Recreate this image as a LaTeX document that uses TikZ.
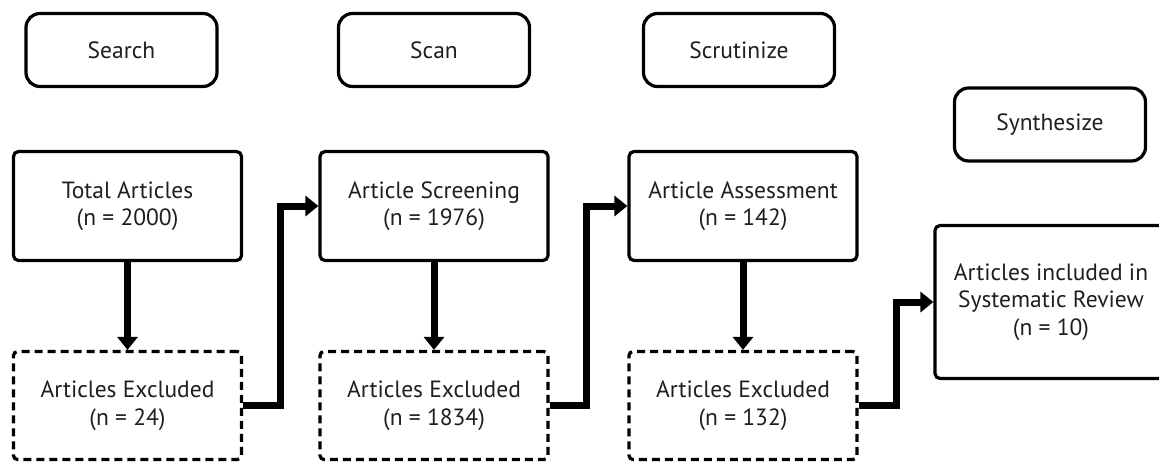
\documentclass[tikz,border=0pt]{standalone}
\usepackage{fontspec}
\setmainfont{PT Sans}
\usetikzlibrary{arrows.meta}
\begin{document}
\begin{tikzpicture}[x=1pt,y=-1pt,
  every node/.style={font=\fontsize{23.5}{27.5}\selectfont, text=black!88, align=center, inner sep=0pt},
  stage/.style={draw, line width=3.2pt, rounded corners=14pt, minimum width=191pt, minimum height=73pt},
  mainbox/.style={draw, line width=3.2pt, rounded corners=5pt, minimum width=228pt, minimum height=109pt},
  exclbox/.style={draw, line width=3.2pt, rounded corners=4pt, dash pattern=on 8pt off 5pt, minimum width=228pt, minimum height=108pt},
  arr/.style={line width=7pt, line join=miter, -{Triangle[length=13pt,width=20pt]}}
]
\useasboundingbox[fill=white] (0,0) rectangle (1159,464);
% stage labels
\node[stage] (s1) at (121.5,50) {Search};
\node[stage] (s2) at (434,50) {Scan};
\node[stage] (s3) at (739,50) {Scrutinize};
\node[stage] (s4) at (1050,124.5) {Synthesize};
% main boxes
\node[mainbox] (t1) at (127.5,206) {Total Articles\\(n = 2000)};
\node[mainbox] (t2) at (434,206) {Article Screening\\(n = 1976)};
\node[mainbox] (t3) at (743,206) {Article Assessment\\(n = 142)};
% excluded boxes
\node[exclbox] (e1) at (127.5,405.5) {Articles Excluded\\(n = 24)};
\node[exclbox] (e2) at (434,405.5) {Articles Excluded\\(n = 1834)};
\node[exclbox] (e3) at (743,405.5) {Articles Excluded\\(n = 132)};
% final box
\node[mainbox, minimum width=232pt, minimum height=153pt] (f) at (1051,302) {Articles included in\\Systematic Review\\(n = 10)};
% connectors
\draw[arr] (t1.south) -- (e1.north);
\draw[arr] (t2.south) -- (e2.north);
\draw[arr] (t3.south) -- (e3.north);
\draw[arr] (e1.east) -- ++(37,0) |- (t2.west);
\draw[arr] (e2.east) -- ++(37,0) |- (t3.west);
\draw[arr] (e3.east) -- ++(38,0) |- (f.west);
\end{tikzpicture}
\end{document}
